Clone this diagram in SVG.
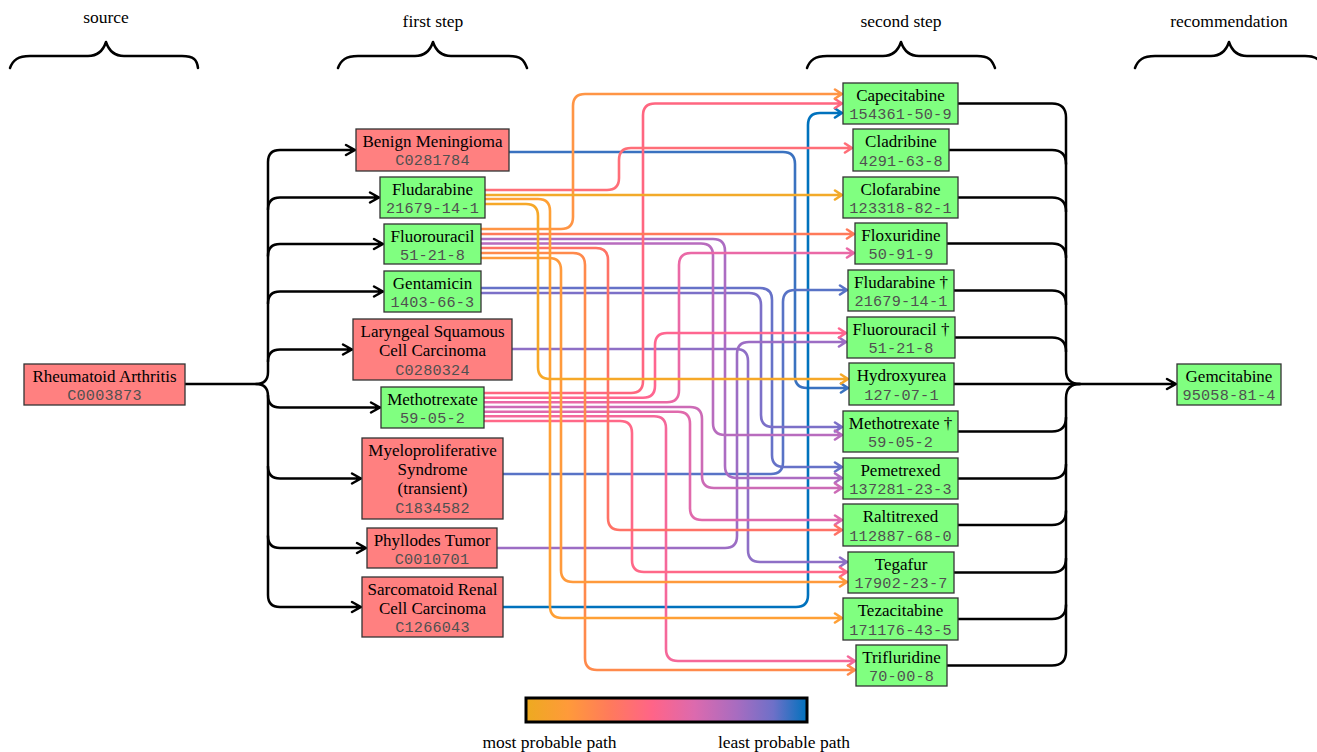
<svg xmlns="http://www.w3.org/2000/svg" width="1317" height="752" viewBox="0 0 1317 752">
<style>
.n{font-family:"Liberation Serif",serif;font-size:17px;text-anchor:middle;fill:#000}
.c{font-family:"Liberation Mono",monospace;font-size:15.2px;letter-spacing:0.2px;text-anchor:middle;fill:#505050}
.h{font-family:"Liberation Serif",serif;font-size:17.5px;text-anchor:middle;fill:#000}
.r{fill:#ff8080;stroke:#333;stroke-width:1.3}
.g{fill:#80ff80;stroke:#333;stroke-width:1.3}
.k{fill:none;stroke:#000;stroke-width:2.5;stroke-linecap:round;stroke-linejoin:round}
.e{fill:none;stroke-width:2.6;stroke-linecap:round;stroke-linejoin:round}
</style>
<defs>
<linearGradient id="leg" x1="0" y1="0" x2="1" y2="0">
<stop offset="0" stop-color="#edaa20"/>
<stop offset="0.15" stop-color="#ff9a3a"/>
<stop offset="0.3" stop-color="#ff7a5c"/>
<stop offset="0.45" stop-color="#ff6488"/>
<stop offset="0.6" stop-color="#dc6aae"/>
<stop offset="0.75" stop-color="#a86cc0"/>
<stop offset="0.88" stop-color="#6e70c8"/>
<stop offset="1" stop-color="#0072bd"/>
</linearGradient>
</defs>
<rect width="1317" height="752" fill="#fff"/>

<g id="headers">
<text class="h" x="106" y="23">source</text>
<text class="h" x="433" y="27">first step</text>
<text class="h" x="901" y="27">second step</text>
<text class="h" x="1229" y="27">recommendation</text>
<path class="k" d="M10,68 C13,60 18,56 30,56 H88 C98,56 103,51 106,42 C109,51 114,56 124,56 H182 C194,56 197,60 198,68"/>
<path class="k" d="M338,68 C341,60 346,56 358,56 H415 C425,56 430,51 433,42 C436,51 441,56 451,56 H509 C521,56 524,60 527,68"/>
<path class="k" d="M807,68 C810,60 815,56 827,56 H883 C893,56 898,51 901,42 C904,51 909,56 919,56 H977 C989,56 992,60 995,68"/>
<path class="k" d="M1135,68 C1138,60 1143,56 1155,56 H1211 C1221,56 1226,51 1229,42 C1232,51 1237,56 1247,56 H1305 C1317,56 1320,60 1323,68"/>
</g>

<g id="connectors">
<!-- source to first step -->
<path class="k" d="M185,384 H256 Q268,384 268,372 V162 Q268,150 280,150 H355 M346,145 L355,150 L346,155"/>
<path class="k" d="M256,384 Q268,384 268,396 V595 Q268,607 280,607 H361 M352,602 L361,607 L352,612"/>
<path class="k" d="M268,209.5 Q268,197.5 280,197.5 H379 M370,192.5 L379,197.5 L370,202.5"/>
<path class="k" d="M268,256 Q268,244 280,244 H383 M374,239 L383,244 L374,249"/>
<path class="k" d="M268,303.5 Q268,291.5 280,291.5 H383 M374,286.5 L383,291.5 L374,296.5"/>
<path class="k" d="M268,361.5 Q268,349.5 280,349.5 H352 M343,344.5 L352,349.5 L343,354.5"/>
<path class="k" d="M268,395.5 Q268,407.5 280,407.5 H380 M371,402.5 L380,407.5 L371,412.5"/>
<path class="k" d="M268,466.5 Q268,478.5 280,478.5 H361 M352,473.5 L361,478.5 L352,483.5"/>
<path class="k" d="M268,536 Q268,548 280,548 H366 M357,543 L366,548 L357,553"/>

<!-- first step to second step -->
<path class="e" stroke="#3a72c0" d="M509,152 H783 Q795,152 795,164 V376 Q795,388 807,388 H848 M841,383.5 L848,388 L841,392.5"/>
<path class="e" stroke="#0072bd" d="M503,607 H796 Q808,607 808,595 V125 Q808,113 820,113 H842 M835,108.5 L842,113 L835,117.5"/>
<path class="e" stroke="#5873c6" d="M503,474 H771 Q783,474 783,462 V302 Q783,290 795,290 H847 M840,285.5 L847,290 L840,294.5"/>
<path class="e" stroke="#6672c8" d="M481,288 H760 Q772,288 772,300 V455 Q772,467 784,467 H842 M835,462.5 L842,467 L835,471.5"/>
<path class="e" stroke="#7c70c8" d="M481,293 H749 Q761,293 761,305 V415 Q761,427 773,427 H842 M835,422.5 L842,427 L835,431.5"/>
<path class="e" stroke="#8e6fc6" d="M512,349 H736 Q748,349 748,361 V550 Q748,562 760,562 H847 M840,557.5 L847,562 L840,566.5"/>
<path class="e" stroke="#9c6dc4" d="M497,548 H725 Q737,548 737,536 V354 Q737,342 749,342 H846 M839,337.5 L846,342 L839,346.5"/>
<path class="e" stroke="#ac6cc2" d="M481,239 H713 Q725,239 725,251 V466 Q725,478 737,478 H842 M835,473.5 L842,478 L835,482.5"/>
<path class="e" stroke="#b86cbe" d="M481,243.5 H701 Q713,243.5 713,255.5 V423 Q713,435 725,435 H842 M835,430.5 L842,435 L835,439.5"/>
<path class="e" stroke="#cc6bb6" d="M484,407 H690 Q702,407 702,419 V476 Q702,488 714,488 H842 M835,483.5 L842,488 L835,492.5"/>
<path class="e" stroke="#e06aac" d="M484,411.7 H678 Q690,411.7 690,423.7 V508 Q690,520 702,520 H842 M835,515.5 L842,520 L835,524.5"/>
<path class="e" stroke="#ea69a6" d="M484,402.3 H667 Q679,402.3 679,390.3 V265 Q679,253 691,253 H854 M847,248.5 L854,253 L847,257.5"/>
<path class="e" stroke="#f5689a" d="M484,416.3 H654 Q666,416.3 666,428.3 V649 Q666,661 678,661 H855 M848,656.5 L855,661 L848,665.5"/>
<path class="e" stroke="#ff6690" d="M484,397.7 H643 Q655,397.7 655,385.7 V345 Q655,333 667,333 H846 M839,328.5 L846,333 L839,337.5"/>
<path class="e" stroke="#ff6888" d="M484,421 H620 Q632,421 632,433 V560 Q632,572 644,572 H847 M840,567.5 L847,572 L840,576.5"/>
<path class="e" stroke="#ff6680" d="M484,393 H631 Q643,393 643,381 V115.5 Q643,103.5 655,103.5 H842 M835,99 L842,103.5 L835,108"/>
<path class="e" stroke="#ff6e78" d="M485,190 H607 Q619,190 619,178 V160 Q619,148 631,148 H852 M845,143.5 L852,148 L845,152.5"/>
<path class="e" stroke="#ff7266" d="M481,248 H596 Q608,248 608,260 V518 Q608,530 620,530 H842 M835,525.5 L842,530 L835,534.5"/>
<path class="e" stroke="#ff7a5a" d="M481,234 H854 M847,229.5 L854,234 L847,238.5"/>
<path class="e" stroke="#ff8a4c" d="M481,253 H573 Q585,253 585,265 V658 Q585,670 597,670 H855 M848,665.5 L855,670 L848,674.5"/>
<path class="e" stroke="#ff9545" d="M481,229 H561 Q573,229 573,217 V106 Q573,94 585,94 H842 M835,89.5 L842,94 L835,98.5"/>
<path class="e" stroke="#ff9a3c" d="M481,258 H549 Q561,258 561,270 V570 Q561,582 573,582 H847 M840,577.5 L847,582 L840,586.5"/>
<path class="e" stroke="#ffa035" d="M485,199 H538 Q550,199 550,211 V606 Q550,618 562,618 H842 M835,613.5 L842,618 L835,622.5"/>
<path class="e" stroke="#f6a828" d="M485,204 H526 Q538,204 538,216 V367 Q538,379 550,379 H848 M841,374.5 L848,379 L841,383.5"/>
<path class="e" stroke="#f2aa2a" d="M485,195 H842 M835,190.5 L842,195 L835,199.5"/>

<!-- second step to recommendation -->
<path class="k" d="M958,103.5 H1052 Q1066,103.5 1066,117.5 V370 Q1066,384 1080,384"/>
<path class="k" d="M949,150 H1052 Q1066,150 1066,164"/>
<path class="k" d="M958,197.5 H1052 Q1066,197.5 1066,211.5"/>
<path class="k" d="M947,243.5 H1052 Q1066,243.5 1066,257.5"/>
<path class="k" d="M954,290.5 H1052 Q1066,290.5 1066,304.5"/>
<path class="k" d="M955,337.5 H1052 Q1066,337.5 1066,351.5"/>
<path class="k" d="M954,384 H1176 M1167,379 L1176,384 L1167,389"/>
<path class="k" d="M958,431.5 H1052 Q1066,431.5 1066,417.5"/>
<path class="k" d="M958,478.5 H1052 Q1066,478.5 1066,464.5"/>
<path class="k" d="M958,525 H1052 Q1066,525 1066,511"/>
<path class="k" d="M954,572.5 H1052 Q1066,572.5 1066,558.5"/>
<path class="k" d="M958,619 H1052 Q1066,619 1066,605"/>
<path class="k" d="M947,665.5 H1052 Q1066,665.5 1066,651.5 V398 Q1066,384 1080,384"/>
</g>

<g id="n-ra"><rect class="r" x="24" y="364" width="161" height="41"/><text class="n" x="104.5" y="382">Rheumatoid Arthritis</text><text class="c" x="104.5" y="400">C0003873</text></g>

<g id="n-benign"><rect class="r" x="356" y="129" width="153" height="42"/><text class="n" x="432.5" y="147">Benign Meningioma</text><text class="c" x="432.5" y="165">C0281784</text></g>
<g id="n-fludarabine"><rect class="g" x="380" y="177" width="105" height="41"/><text class="n" x="432.5" y="194.5">Fludarabine</text><text class="c" x="432.5" y="213">21679-14-1</text></g>
<g id="n-fluorouracil"><rect class="g" x="384" y="224" width="97" height="40"/><text class="n" x="432.5" y="241.5">Fluorouracil</text><text class="c" x="432.5" y="259.5">51-21-8</text></g>
<g id="n-gentamicin"><rect class="g" x="384" y="271" width="97" height="41"/><text class="n" x="432.5" y="288.5">Gentamicin</text><text class="c" x="432.5" y="307">1403-66-3</text></g>
<g id="n-laryngeal"><rect class="r" x="353" y="319" width="159" height="61"/><text class="n" x="432.5" y="337">Laryngeal Squamous</text><text class="n" x="432.5" y="356">Cell Carcinoma</text><text class="c" x="432.5" y="374.5">C0280324</text></g>
<g id="n-methotrexate"><rect class="g" x="381" y="387" width="103" height="41"/><text class="n" x="432.5" y="404.5">Methotrexate</text><text class="c" x="432.5" y="423">59-05-2</text></g>
<g id="n-myelo"><rect class="r" x="362" y="438" width="141" height="81"/><text class="n" x="432.5" y="456">Myeloproliferative</text><text class="n" x="432.5" y="475">Syndrome</text><text class="n" x="432.5" y="494">(transient)</text><text class="c" x="432.5" y="513">C1834582</text></g>
<g id="n-phyllodes"><rect class="r" x="367" y="528" width="130" height="40"/><text class="n" x="432" y="545.5">Phyllodes Tumor</text><text class="c" x="432" y="563.5">C0010701</text></g>
<g id="n-sarcomatoid"><rect class="r" x="362" y="577" width="141" height="60"/><text class="n" x="432.5" y="595">Sarcomatoid Renal</text><text class="n" x="432.5" y="614">Cell Carcinoma</text><text class="c" x="432.5" y="632">C1266043</text></g>

<g id="n-capecitabine"><rect class="g" x="843" y="83" width="115" height="41"/><text class="n" x="900.5" y="100.5">Capecitabine</text><text class="c" x="900.5" y="119">154361-50-9</text></g>
<g id="n-cladribine"><rect class="g" x="853" y="129" width="96" height="42"/><text class="n" x="901" y="147">Cladribine</text><text class="c" x="901" y="165.5">4291-63-8</text></g>
<g id="n-clofarabine"><rect class="g" x="843" y="177" width="115" height="41"/><text class="n" x="900.5" y="194.5">Clofarabine</text><text class="c" x="900.5" y="213">123318-82-1</text></g>
<g id="n-floxuridine"><rect class="g" x="855" y="223" width="92" height="41"/><text class="n" x="901" y="240.5">Floxuridine</text><text class="c" x="901" y="259">50-91-9</text></g>
<g id="n-fludarabine2"><rect class="g" x="848" y="270" width="106" height="41"/><text class="n" x="901" y="287.5">Fludarabine †</text><text class="c" x="901" y="306">21679-14-1</text></g>
<g id="n-fluorouracil2"><rect class="g" x="847" y="317" width="108" height="41"/><text class="n" x="901" y="334.5">Fluorouracil †</text><text class="c" x="901" y="353">51-21-8</text></g>
<g id="n-hydroxyurea"><rect class="g" x="849" y="363" width="105" height="42"/><text class="n" x="901.5" y="381">Hydroxyurea</text><text class="c" x="901.5" y="399.5">127-07-1</text></g>
<g id="n-methotrexate2"><rect class="g" x="843" y="411" width="115" height="41"/><text class="n" x="900.5" y="428.5">Methotrexate †</text><text class="c" x="900.5" y="447">59-05-2</text></g>
<g id="n-pemetrexed"><rect class="g" x="843" y="458" width="115" height="41"/><text class="n" x="900.5" y="475.5">Pemetrexed</text><text class="c" x="900.5" y="494">137281-23-3</text></g>
<g id="n-raltitrexed"><rect class="g" x="843" y="504" width="115" height="42"/><text class="n" x="900.5" y="522">Raltitrexed</text><text class="c" x="900.5" y="540.5">112887-68-0</text></g>
<g id="n-tegafur"><rect class="g" x="848" y="552" width="106" height="41"/><text class="n" x="901" y="569.5">Tegafur</text><text class="c" x="901" y="588">17902-23-7</text></g>
<g id="n-tezacitabine"><rect class="g" x="843" y="598" width="115" height="42"/><text class="n" x="900.5" y="616">Tezacitabine</text><text class="c" x="900.5" y="634.5">171176-43-5</text></g>
<g id="n-trifluridine"><rect class="g" x="856" y="645" width="91" height="41"/><text class="n" x="901.5" y="662.5">Trifluridine</text><text class="c" x="901.5" y="681">70-00-8</text></g>

<g id="n-gemcitabine"><rect class="g" x="1177" y="364" width="104" height="41"/><text class="n" x="1229" y="382">Gemcitabine</text><text class="c" x="1229" y="400">95058-81-4</text></g>

<g id="legend">
<rect x="526" y="698" width="281" height="24" fill="url(#leg)" stroke="#000" stroke-width="3"/>
<text class="h" x="549.5" y="748">most probable path</text>
<text class="h" x="784" y="748">least probable path</text>
</g>
</svg>
